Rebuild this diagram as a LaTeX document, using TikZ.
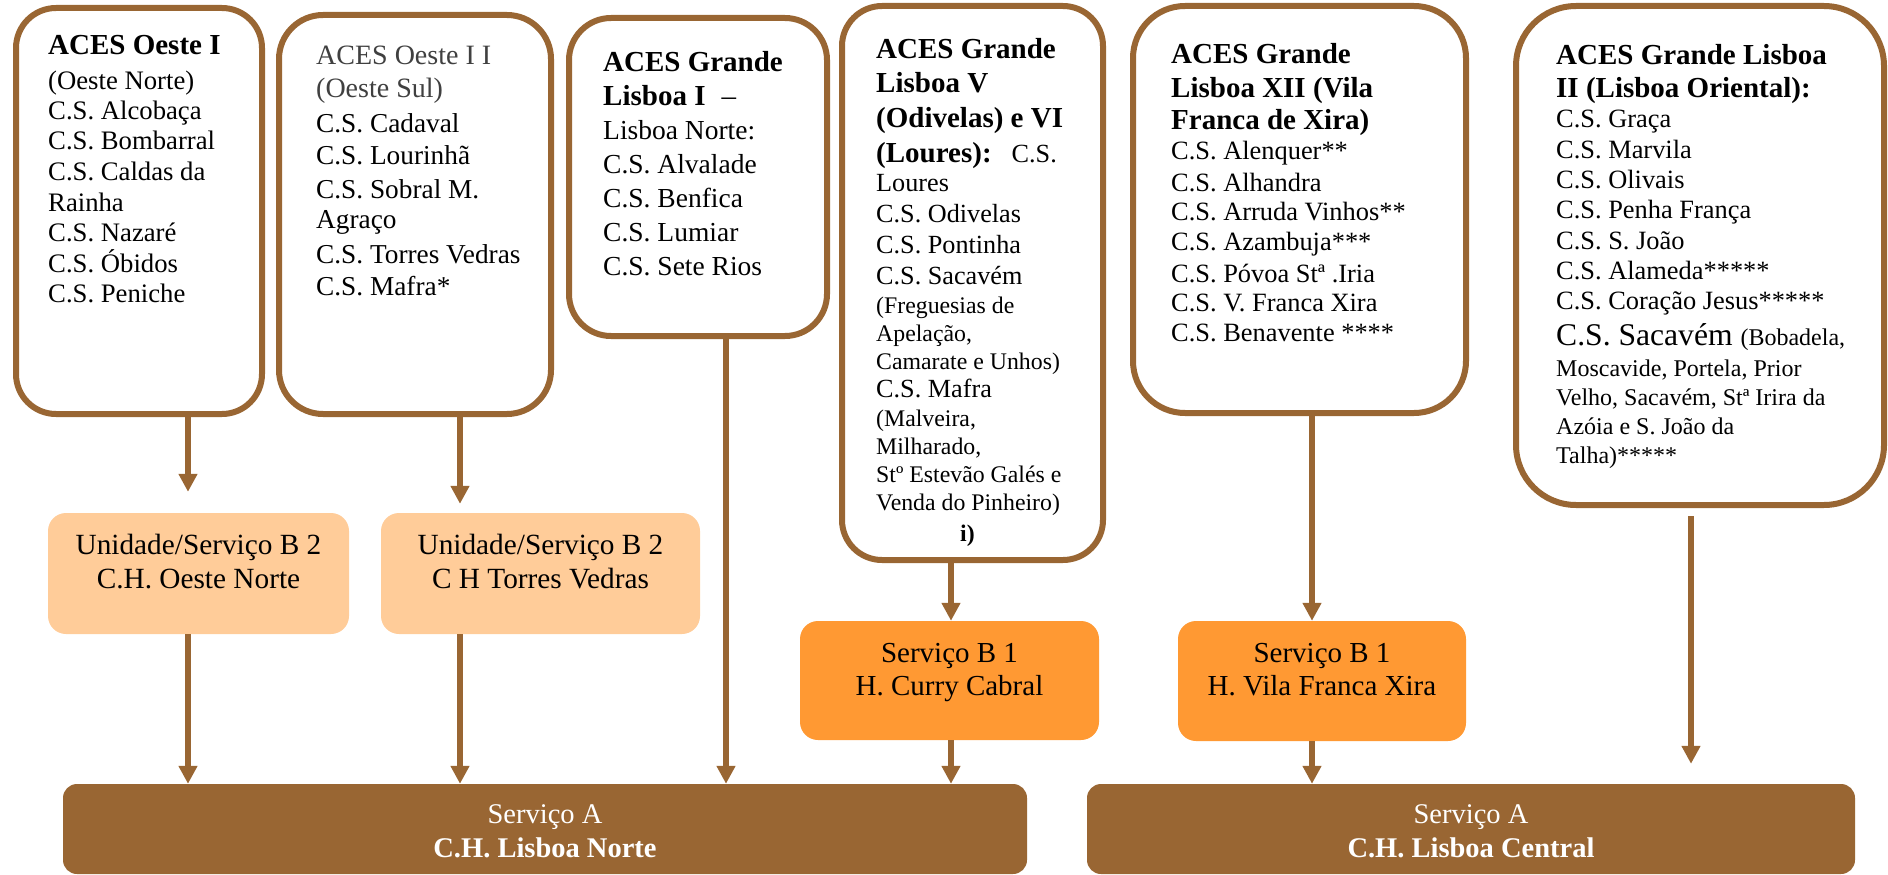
\documentclass[tikz,border=0pt]{standalone}
\usepackage{fontspec}
\setmainfont{Liberation Serif}
\usetikzlibrary{arrows.meta}
\definecolor{acesbrown}{HTML}{996633}
\definecolor{lightor}{HTML}{FFCC99}
\definecolor{darkor}{HTML}{FF9933}
\definecolor{greytxt}{HTML}{404040}
\newcommand\TL[3]{{\fontsize{#1}{#2}\selectfont\leavevmode #3\par}}
\tikzset{
  topbox/.style={draw=acesbrown, line width=6pt, fill=white, inner sep=0pt},
  bluebox/.style={fill=lightor, rounded corners=18pt, inner sep=0pt},
  orbox/.style={fill=darkor, rounded corners=18pt, inner sep=0pt},
  abox/.style={fill=acesbrown, rounded corners=14pt, inner sep=0pt},
  txt/.style={anchor=base west, inner sep=0pt, align=left},
  ctxt/.style={anchor=base, inner sep=0pt},
  arr/.style={draw=acesbrown, line width=6pt, -{Triangle[length=18pt,width=18pt]}},
}
\begin{document}
\begin{tikzpicture}[x=1pt,y=-1pt]
\useasboundingbox (0,0) rectangle (1888,875);
% top boxes
\node[topbox, rounded corners=40pt, minimum width=246pt, minimum height=406pt] (b1) at (139,211) {};
\node[topbox, rounded corners=44pt, minimum width=272pt, minimum height=399pt] (b2) at (415,214.5) {};
\node[topbox, rounded corners=42pt, minimum width=258pt, minimum height=318pt] (b3) at (698,177) {};
\node[topbox, rounded corners=40pt, minimum width=261pt, minimum height=554pt] (b4) at (972.5,283) {};
\node[topbox, rounded corners=52pt, minimum width=333pt, minimum height=407pt] (b5) at (1299.5,209.5) {};
\node[topbox, rounded corners=60pt, minimum width=368pt, minimum height=499pt] (b6) at (1700,255.5) {};
% middle boxes
\node[bluebox, minimum width=301pt, minimum height=121pt] (c1) at (198.5,573.5) {};
\node[bluebox, minimum width=319pt, minimum height=121pt] (c2) at (540.5,573.5) {};
\node[orbox, minimum width=299pt, minimum height=119pt] (d1) at (949.5,680.5) {};
\node[orbox, minimum width=288pt, minimum height=120pt] (d2) at (1322,681) {};
% bottom boxes
\node[abox, minimum width=964pt, minimum height=90pt] (a1) at (545,829) {};
\node[abox, minimum width=768pt, minimum height=90pt] (a2) at (1471,829) {};

% texts in top boxes
\node[txt] (t1) at (48,55) {\parbox[t]{210pt}{\raggedright
\TL{29}{33}{\bfseries ACES Oeste I}
\TL{26.7}{35}{(Oeste Norte)}
\TL{26.7}{30}{C.S. Alcobaça}
\TL{26.7}{30}{C.S. Bombarral}
\TL{26.7}{31}{C.S. Caldas da}
\TL{26.7}{31}{Rainha}
\TL{26.7}{30}{C.S. Nazaré}
\TL{26.7}{31}{C.S. Óbidos}
\TL{26.7}{30}{C.S. Peniche}}};

\node[txt] (t2) at (316,65) {\parbox[t]{230pt}{\raggedright
\TL{28}{33}{\color{greytxt}ACES Oeste I I}
\TL{28}{33}{\color{greytxt}(Oeste Sul)}
\TL{27.3}{35}{C.S. Cadaval}
\TL{27.3}{32}{C.S. Lourinhã}
\TL{27.3}{34}{C.S. Sobral M.}
\TL{27.3}{30}{Agraço}
\TL{27.3}{35}{C.S. Torres Vedras}
\TL{27.3}{32}{C.S. Mafra*}}};

\node[txt] (t3) at (603,72) {\parbox[t]{220pt}{\raggedright
\TL{29}{33}{\bfseries ACES Grande}
\TL{29}{33}{{\bfseries Lisboa I}\hspace{16pt}–}
\TL{27.5}{35}{Lisboa Norte:}
\TL{27.5}{34}{C.S. Alvalade}
\TL{27.5}{34}{C.S. Benfica}
\TL{27.5}{34}{C.S. Lumiar}
\TL{27.5}{34}{C.S. Sete Rios}}};

\node[txt] (t4) at (876,59) {\parbox[t]{192pt}{\raggedright
\TL{29}{33}{\bfseries ACES Grande}
\TL{29}{34}{\bfseries Lisboa V}
\TL{29}{35}{\bfseries (Odivelas) e VI}
\TL{26.2}{35}{{\bfseries\fontsize{29}{34}\selectfont (Loures):}\hspace{20pt}C.S.}
\TL{26.2}{29}{Loures}
\TL{26.2}{31}{C.S. Odivelas}
\TL{26.2}{31}{C.S. Pontinha}
\TL{26.2}{31}{C.S. Sacavém}
\TL{23.8}{29}{(Freguesias de}
\TL{23.8}{28}{Apelação,}
\TL{23.8}{28}{Camarate e Unhos)}
\TL{26.2}{28}{C.S. Mafra}
\TL{23.8}{29}{(Malveira,}
\TL{23.8}{28}{Milharado,}
\TL{23.8}{28}{Stº Estevão Galés e}
\TL{23.8}{28}{Venda do Pinheiro)}
\TL{23.8}{31}{\hspace*{84pt}\bfseries i)}}};

\node[txt] (t5) at (1171,64) {\parbox[t]{280pt}{\raggedright
\TL{29}{33}{\bfseries ACES Grande}
\TL{29}{33}{\bfseries Lisboa XII (Vila}
\TL{29}{33}{\bfseries Franca de Xira)}
\TL{26.4}{30}{C.S. Alenquer**}
\TL{26.4}{31}{C.S. Alhandra}
\TL{26.4}{30}{C.S. Arruda Vinhos**}
\TL{26.4}{30}{C.S. Azambuja***}
\TL{26.4}{31}{C.S. Póvoa Stª .Iria}
\TL{26.4}{30}{C.S. V. Franca Xira}
\TL{26.4}{30}{C.S. Benavente ****}}};

\node[txt] (t6) at (1556,65) {\parbox[t]{320pt}{\raggedright
\TL{29}{33}{\bfseries ACES Grande Lisboa}
\TL{29}{33}{\bfseries II (Lisboa Oriental):}
\TL{26.4}{30}{C.S. Graça}
\TL{26.4}{31}{C.S. Marvila}
\TL{26.4}{30}{C.S. Olivais}
\TL{26.4}{30}{C.S. Penha França}
\TL{26.4}{31}{C.S. S. João}
\TL{26.4}{30}{C.S. Alameda*****}
\TL{26.4}{30}{C.S. Coração Jesus*****}
\TL{31.6}{36}{C.S. Sacavém {\fontsize{24}{28}\selectfont (Bobadela,}}
\TL{24}{31}{Moscavide, Portela, Prior}
\TL{24}{29}{Velho, Sacavém, Stª Irira da}
\TL{24}{29}{Azóia e S. João da}
\TL{24}{29}{Talha)*****}}};

% middle texts
\node[ctxt] (tc1) at (198.5,554) {\parbox[t]{300pt}{\centering
\TL{29.3}{34}{Unidade/Serviço B 2}
\TL{29.3}{34}{C.H. Oeste Norte}}};
\node[ctxt] (tc2) at (540.5,554) {\parbox[t]{318pt}{\centering
\TL{29.3}{34}{Unidade/Serviço B 2}
\TL{29.3}{34}{C H Torres Vedras}}};
\node[ctxt] (td1) at (949.5,662) {\parbox[t]{298pt}{\centering
\TL{29}{33}{Serviço B 1}
\TL{29}{33}{H. Curry Cabral}}};
\node[ctxt] (td2) at (1322,662) {\parbox[t]{288pt}{\centering
\TL{29}{33}{Serviço B 1}
\TL{29}{33}{H. Vila Franca Xira}}};
% bottom texts
\node[ctxt] (ta1) at (545,823) {\parbox[t]{900pt}{\centering
\TL{28.5}{34}{\color{white}Serviço A}
\TL{28.5}{34}{\color{white}\bfseries C.H. Lisboa Norte}}};
\node[ctxt] (ta2) at (1471,823) {\parbox[t]{700pt}{\centering
\TL{28.5}{34}{\color{white}Serviço A}
\TL{28.5}{34}{\color{white}\bfseries C.H. Lisboa Central}}};

% connectors
\draw[arr, shorten >=21pt] (188,0 |- b1.south) -- (188,0 |- c1.north);
\draw[arr, shorten >=9pt] (460,0 |- b2.south) -- (460,0 |- c2.north);
\draw[arr] (188,0 |- c1.south) -- (188,0 |- a1.north);
\draw[arr] (460,0 |- c2.south) -- (460,0 |- a1.north);
\draw[arr] (726,0 |- b3.south) -- (726,0 |- a1.north);
\draw[arr] (951,0 |- b4.south) -- (951,0 |- d1.north);
\draw[arr] (951,0 |- d1.south) -- (951,0 |- a1.north);
\draw[arr] (1312,0 |- b5.south) -- (1312,0 |- d2.north);
\draw[arr] (1312,0 |- d2.south) -- (1312,0 |- a2.north);
\draw[arr, shorten <=8pt, shorten >=20pt] (1691,0 |- b6.south) -- (1691,0 |- a2.north);
\end{tikzpicture}
\end{document}
